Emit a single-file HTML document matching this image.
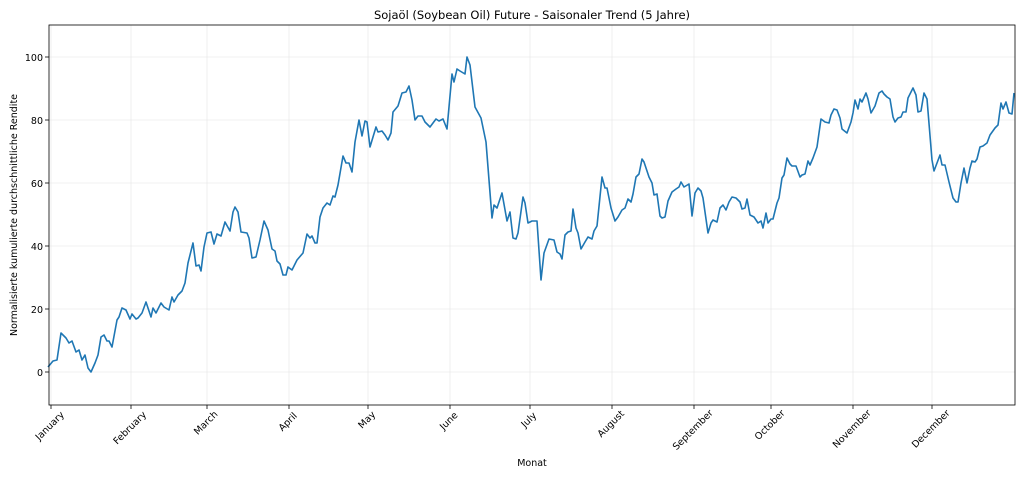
<!DOCTYPE html>
<html><head><meta charset="utf-8"><style>body{margin:0;background:#fff}svg{display:block;font-family:"DejaVu Sans","Liberation Sans",sans-serif}</style></head><body>
<svg width="1024" height="478" viewBox="0 0 1024 478" xmlns="http://www.w3.org/2000/svg">
<rect width="1024" height="478" fill="#fff"/>
<g stroke="#ebebeb" stroke-width="0.8">
<line x1="49" x2="1015" y1="372" y2="372"/><line x1="49" x2="1015" y1="309" y2="309"/><line x1="49" x2="1015" y1="246" y2="246"/><line x1="49" x2="1015" y1="183" y2="183"/><line x1="49" x2="1015" y1="120" y2="120"/><line x1="49" x2="1015" y1="57" y2="57"/>
<line x1="51" x2="51" y1="25" y2="405"/><line x1="131" x2="131" y1="25" y2="405"/><line x1="207" x2="207" y1="25" y2="405"/><line x1="289" x2="289" y1="25" y2="405"/><line x1="368" x2="368" y1="25" y2="405"/><line x1="450" x2="450" y1="25" y2="405"/><line x1="530" x2="530" y1="25" y2="405"/><line x1="612" x2="612" y1="25" y2="405"/><line x1="694" x2="694" y1="25" y2="405"/><line x1="771" x2="771" y1="25" y2="405"/><line x1="853" x2="853" y1="25" y2="405"/><line x1="932" x2="932" y1="25" y2="405"/>
</g>
<polyline fill="none" stroke="#1f77b4" stroke-width="1.6" stroke-linejoin="round" points="48,367 53,361 57,360 61,333 66,338 69,343 72,341 76,352 79,350 82,360 85,355 88,368 91,372 95,363 98,355 101,337 104,335 107,341 109,341 112,347 117,320 119,317 122,308 126,310 130,319 132,314 136,319 138,318 142,313 146,302 151,317 153,308 156,313 161,303 164,307 169,310 172,297 174,302 178,295 182,291 185,283 188,263 193,243 196,266 199,265 201,271 204,247 207,233 211,232 214,244 217,234 221,236 225,222 230,231 233,212 235,207 238,212 241,232 247,233 249,238 252,258 256,257 260,240 264,221 268,230 272,249 275,251 277,261 280,264 283,275 286,275 288,267 292,270 297,260 303,253 307,234 310,238 312,236 315,243 317,243 320,217 323,208 327,203 330,205 333,196 335,197 338,185 343,156 346,163 349,163 352,172 355,142 359,120 362,136 365,121 367,122 370,147 373,137 376,127 378,132 382,131 385,135 388,140 391,133 393,112 398,106 402,93 406,92 409,86 412,100 415,120 418,116 422,116 425,122 430,127 436,119 439,121 443,119 447,129 452,74 454,82 457,69 460,71 465,74 467,57 470,65 475,107 481,118 486,142 492,218 494,205 497,208 502,193 507,221 510,212 513,238 516,239 518,233 523,197 525,203 528,223 532,221 537,221 541,280 544,253 549,239 554,240 557,252 560,254 562,259 565,235 568,232 571,231 573,209 576,228 578,233 581,249 585,242 588,237 592,239 594,231 597,226 602,177 605,188 607,188 611,208 615,221 618,217 622,210 625,208 628,199 631,202 633,194 636,177 639,174 642,159 644,162 649,177 652,183 654,195 657,194 660,216 662,218 665,217 668,201 672,192 676,189 679,187 681,182 684,187 689,184 692,216 695,193 698,188 701,191 703,198 708,233 711,223 713,220 717,222 720,208 723,205 726,210 729,202 732,197 736,198 740,202 742,209 745,208 747,199 750,215 754,217 758,223 761,221 763,228 766,213 768,223 771,219 773,219 777,203 779,198 782,178 784,175 787,158 790,164 792,166 796,166 800,177 802,175 805,174 808,161 810,165 813,158 817,147 821,119 825,122 829,123 831,115 834,109 837,110 840,118 842,129 847,133 851,122 853,113 855,100 858,109 860,99 862,102 866,93 868,99 871,113 875,106 879,93 882,91 884,94 887,97 890,99 893,117 895,122 898,118 901,117 903,112 906,112 908,98 911,92 913,88 916,95 918,112 921,111 924,93 927,99 932,160 934,171 940,155 942,165 945,165 949,182 953,198 956,202 958,202 961,183 964,168 967,183 970,168 972,161 975,162 977,159 980,147 983,146 987,143 990,135 995,128 998,125 1001,103 1003,109 1006,102 1009,113 1012,114 1014,93"/>
<rect x="49" y="25" width="966" height="380" fill="none" stroke="#000" stroke-width="0.8"/>
<g stroke="#000" stroke-width="0.8">
<line x1="45" x2="49" y1="372" y2="372"/><line x1="45" x2="49" y1="309" y2="309"/><line x1="45" x2="49" y1="246" y2="246"/><line x1="45" x2="49" y1="183" y2="183"/><line x1="45" x2="49" y1="120" y2="120"/><line x1="45" x2="49" y1="57" y2="57"/>
<line x1="51" x2="51" y1="405" y2="409"/><line x1="131" x2="131" y1="405" y2="409"/><line x1="207" x2="207" y1="405" y2="409"/><line x1="289" x2="289" y1="405" y2="409"/><line x1="368" x2="368" y1="405" y2="409"/><line x1="450" x2="450" y1="405" y2="409"/><line x1="530" x2="530" y1="405" y2="409"/><line x1="612" x2="612" y1="405" y2="409"/><line x1="694" x2="694" y1="405" y2="409"/><line x1="771" x2="771" y1="405" y2="409"/><line x1="853" x2="853" y1="405" y2="409"/><line x1="932" x2="932" y1="405" y2="409"/>
</g>
<g font-size="9.5" fill="#000" text-anchor="end">
<text x="43" y="376">0</text><text x="43" y="313">20</text><text x="43" y="250">40</text><text x="43" y="187">60</text><text x="43" y="124">80</text><text x="43" y="61">100</text>
</g>
<g font-size="9.5" fill="#000" text-anchor="middle">
<text transform="translate(52,428) rotate(-45)">January</text>
<text transform="translate(132,430) rotate(-45)">February</text>
<text transform="translate(208,425) rotate(-45)">March</text>
<text transform="translate(290,424) rotate(-45)">April</text>
<text transform="translate(369,422) rotate(-45)">May</text>
<text transform="translate(451,423) rotate(-45)">June</text>
<text transform="translate(531,422) rotate(-45)">July</text>
<text transform="translate(613,426) rotate(-45)">August</text>
<text transform="translate(695,432) rotate(-45)">September</text>
<text transform="translate(772,427) rotate(-45)">October</text>
<text transform="translate(854,431) rotate(-45)">November</text>
<text transform="translate(933,431) rotate(-45)">December</text>
</g>
<text x="532" y="466" font-size="9.5" text-anchor="middle">Monat</text>
<text transform="translate(17,215) rotate(-90)" font-size="9.5" text-anchor="middle">Normalisierte kumulierte durchschnittliche Rendite</text>
<text x="532" y="19" font-size="11.5" text-anchor="middle">Sojaöl (Soybean Oil) Future - Saisonaler Trend (5 Jahre)</text>
</svg>
</body></html>
